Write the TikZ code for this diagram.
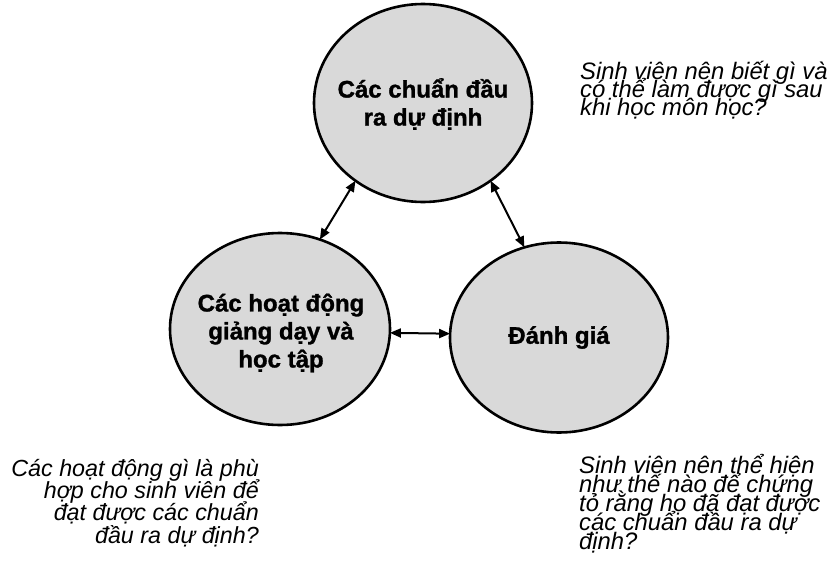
\documentclass[tikz,border=0pt]{standalone}
\usepackage{fontspec}
\setmainfont[BoldFeatures={FakeBold=1.2}]{Liberation Sans}
\usetikzlibrary{shapes.geometric,arrows.meta}
\newcommand\tightlines{\lineskiplimit=-100pt\relax}
\begin{document}
\begin{tikzpicture}[x=1pt,y=-1pt,
  blob/.style={ellipse, draw=black, line width=2.6pt, fill=black!15,
    inner sep=0pt, outer sep=0pt},
  lbl/.style={font=\fontsize{24}{28}\selectfont\bfseries\tightlines, align=center, inner sep=0pt},
  ques/.style={font=\fontsize{23.8}{18}\selectfont\itshape\tightlines, inner sep=0pt},
  link/.style={line width=2pt,
    {Triangle[length=11pt,width=9pt]}-{Triangle[length=11pt,width=9pt]}}]
\useasboundingbox (0,0) rectangle (831,581);

% the three circles
\node[blob, minimum width=218pt, minimum height=198pt] (top) at (423,103) {};
\node[blob, minimum width=220pt, minimum height=192pt] (left) at (280,329) {};
\node[blob, minimum width=218pt, minimum height=190pt] (right) at (559,337.5) {};

\node[lbl] (toptxt) at (423,104) {Các chuẩn đầu\\ra dự định};
\node[lbl] (lefttxt) at (281,333) {Các hoạt động\\giảng dạy và\\học tập};
\node[lbl] (righttxt) at (right) {Đánh giá};

% two-way links
\draw[link] (top.-131) -- (left.66);
\draw[link] (top.-49) -- (right.111);
\draw[link] (left.-2.6) -- (right.178.1);

% guiding questions (anchored at the baseline of their last line)
\node[ques, align=left, anchor=base west] (qtop) at (580,115)
  {Sinh viên nên biết gì và\\có thể làm được gì sau\\khi học môn học?};
\node[ques, align=left, anchor=base west,
      font=\fontsize{23.8}{18.8}\selectfont\itshape\tightlines] (qright) at (579,549)
  {Sinh viên nên thể hiện\\như thế nào để chứng\\tỏ rằng họ đã đạt được\\các chuẩn đầu ra dự\\định?};
\node[ques, align=right, anchor=base east,
      font=\fontsize{23.3}{22.3}\selectfont\itshape\tightlines] (qleft) at (259,543)
  {Các hoạt động gì là phù\\hợp cho sinh viên để\\đạt được các chuẩn\\đầu ra dự định?};
\end{tikzpicture}
\end{document}
